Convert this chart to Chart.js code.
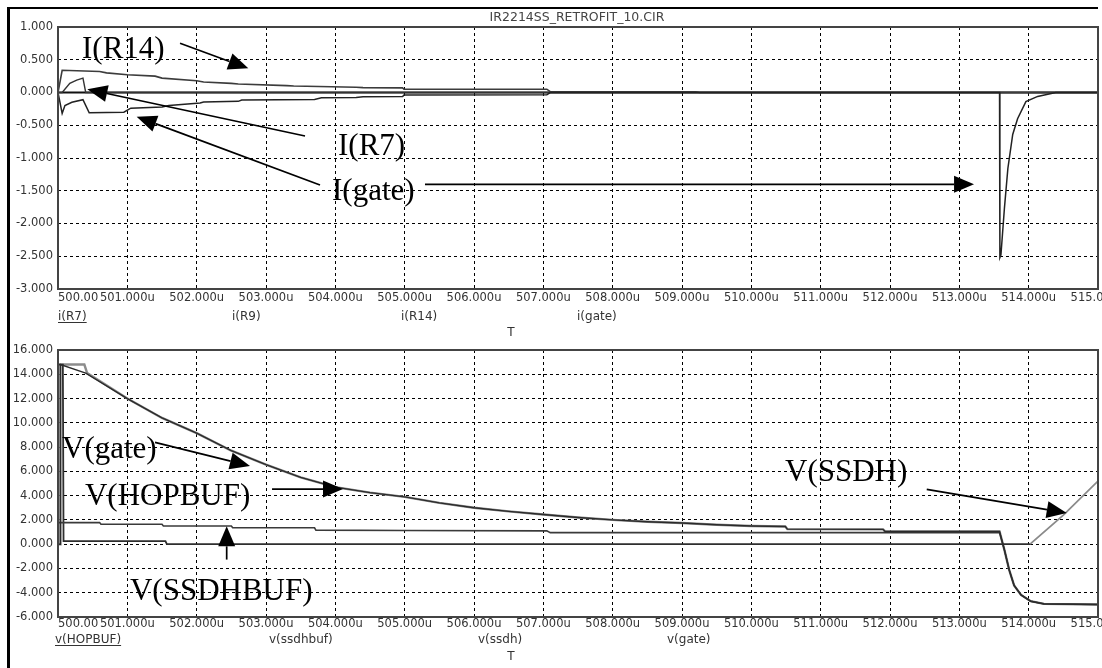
<!DOCTYPE html>
<html>
<head>
<meta charset="utf-8">
<title>IR2214SS_RETROFIT_10.CIR</title>
<script src="https://cdn.jsdelivr.net/npm/chart.js@4.4.1/dist/chart.umd.min.js"></script>
<style>
  html, body { margin: 0; padding: 0; background: #fff; }
  #page { position: relative; width: 1102px; height: 668px; overflow: hidden; background: #fff; }
  #frame { position: absolute; left: 7px; top: 7px; width: 1091px; height: 700px;
           border-top: 2px solid #000; border-left: 3px solid #000; box-sizing: border-box; }
  #cTop { position: absolute; left: 0; top: 0; }
  #cBot { position: absolute; left: 0; top: 340px; }
</style>
</head>
<body>
<div id="page">
  <div id="frame"></div>
  <canvas id="cTop" width="1102" height="340"></canvas>
  <canvas id="cBot" width="1102" height="328"></canvas>
</div>
<script>
// ---- time axis (microseconds) ----
const xMin = 500, xMax = 515, xStep = 1;
const chartTitle = 'IR2214SS_RETROFIT_10.CIR';
const axisName = 'T';

// ---- upper panel: currents ----
const topYMin = -3, topYMax = 1, topYStep = 0.5;
const topLegend = ['i(R7)', 'i(R9)', 'i(R14)', 'i(gate)'];

const tR7 = [500.00, 500.06, 500.17, 500.27, 500.36, 500.40, 515.00];
const iR7 = [0.00, 0.00, 0.14, 0.19, 0.22, 0.00, 0.00];

const tR9 = [500.00, 515.00];
const iR9 = [0.00, 0.00];

const tR14 = [500.00, 500.06, 500.60, 500.70, 501.00, 501.40, 501.50, 502.00, 502.10, 502.50, 502.60,
              503.30, 503.40, 504.30, 504.40, 504.97, 504.99, 507.05, 507.10, 509.20, 509.25, 515.00];
const iR14 = [0.00, 0.34, 0.32, 0.30, 0.27, 0.25, 0.22, 0.18, 0.16, 0.14, 0.13,
              0.105, 0.10, 0.08, 0.075, 0.07, 0.05, 0.05, 0.012, 0.012, 0.00, 0.00];

const tGateI = [500.00, 500.06, 500.10, 500.20, 500.36, 500.45, 500.95, 501.05, 501.50, 501.60, 502.05,
                502.10, 502.60, 502.65, 503.70, 503.80, 504.30, 504.40, 504.97, 504.99, 507.05, 507.10,
                513.58, 513.585, 513.60, 513.65, 513.70, 513.77, 513.84, 513.96, 514.13, 514.39, 515.00];
const iGate = [0.00, -0.32, -0.20, -0.15, -0.11, -0.31, -0.30, -0.24, -0.22, -0.20, -0.16,
               -0.145, -0.135, -0.115, -0.105, -0.08, -0.075, -0.064, -0.06, -0.04, -0.035, 0.00,
               0.00, -2.52, -2.48, -1.77, -1.16, -0.64, -0.40, -0.14, -0.06, 0.00, 0.00];

// ---- lower panel: voltages ----
const botYMin = -6, botYMax = 16, botYStep = 2;
const botLegend = ['v(HOPBUF)', 'v(ssdhbuf)', 'v(ssdh)', 'v(gate)'];

const tGateV = [500.00, 500.03, 500.035, 500.40, 501.00, 501.50, 502.00, 502.50, 503.00, 503.50, 504.00,
                504.50, 505.00, 505.50, 506.00, 506.50, 507.00, 507.50, 508.00, 508.50, 509.00, 509.50,
                510.00, 510.49, 510.52, 511.90, 511.93, 513.58, 513.65, 513.72, 513.79, 513.89, 514.03,
                514.22, 515.00];
const vGate = [0.00, 0.00, 14.80, 14.10, 12.00, 10.40, 9.15, 7.70, 6.55, 5.50, 4.70,
               4.25, 3.90, 3.40, 3.00, 2.70, 2.45, 2.20, 2.00, 1.85, 1.75, 1.60,
               1.50, 1.46, 1.24, 1.22, 1.05, 1.05, -0.47, -2.14, -3.40, -4.18, -4.70,
               -4.92, -4.97];

const tHop = [500.00, 500.03, 500.035, 500.38, 500.42, 501.00, 501.50, 502.00, 502.50, 503.00, 503.50,
              504.00, 504.50, 505.00, 505.50, 506.00, 506.50, 507.00, 507.50, 508.00, 508.50, 509.00,
              509.50, 510.00, 510.49, 510.52, 511.90, 511.93, 513.58, 513.65, 513.72, 513.79, 513.89,
              514.03, 514.22, 515.00];
const vHop = [0.00, 0.00, 14.80, 14.80, 14.10, 12.00, 10.40, 9.15, 7.70, 6.55, 5.50,
              4.70, 4.25, 3.90, 3.40, 3.00, 2.70, 2.45, 2.20, 2.00, 1.85, 1.75,
              1.60, 1.50, 1.46, 1.24, 1.22, 1.05, 1.05, -0.47, -2.14, -3.40, -4.18,
              -4.70, -4.92, -4.97];

const tSsdhBuf = [500.00, 500.60, 500.62, 501.50, 501.52, 502.50, 502.52, 503.70, 503.72, 505.00,
                  507.05, 507.10, 513.58, 513.65, 513.72, 513.79, 513.89, 514.03, 514.22, 515.00];
const vSsdhBuf = [1.78, 1.78, 1.64, 1.64, 1.50, 1.50, 1.35, 1.35, 1.16, 1.13,
                  1.10, 0.95, 0.95, -0.47, -2.14, -3.40, -4.18, -4.70, -4.92, -4.97];

const tSsdh = [500.00, 500.07, 500.08, 501.55, 501.57, 514.02, 514.50, 515.00];
const vSsdh = [14.80, 14.80, 0.25, 0.25, 0.00, 0.00, 2.40, 5.20];

// ---- callouts, anchored in axis units (time, value) ----
const topNotes = [
  { text: 'I(R14)',  t: 500.346, v: 0.527 },
  { text: 'I(R7)',   t: 504.039, v: -0.954 },
  { text: 'I(gate)', t: 503.952, v: -1.641 }
];
const topArrows = [
  { t1: 501.760, v1: 0.751,  t2: 502.745, v2: 0.369 },
  { t1: 503.563, v1: -0.664, t2: 500.423, v2: 0.049 },
  { t1: 503.779, v1: -1.412, t2: 501.135, v2: -0.369 },
  { t1: 505.293, v1: -1.402, t2: 513.212, v2: -1.402 }
];
const botNotes = [
  { text: 'V(gate)',    t: 500.058, v: 7.117 },
  { text: 'V(HOPBUF)',  t: 500.389, v: 3.215 },
  { text: 'V(SSDHBUF)', t: 501.038, v: -4.590 },
  { text: 'V(SSDH)',    t: 510.486, v: 5.207 }
];
const botArrows = [
  { t1: 501.399, v1: 8.387,  t2: 502.769, v2: 6.452 },
  { t1: 503.087, v1: 4.543,  t2: 504.111, v2: 4.543 },
  { t1: 502.433, v1: -1.269, t2: 502.433, v2: 1.471 },
  { t1: 512.530, v1: 4.518,  t2: 514.549, v2: 2.575 }
];

// ---- helpers ----
const pts = (ts, vs) => ts.map((t, i) => ({ x: t, y: vs[i] }));
const TICK_SIZE = 11.5;
const TICK_FONT = { family: '"DejaVu Sans", sans-serif', size: TICK_SIZE };
const NOTE_FONT = '31px "Liberation Serif", "Times New Roman", serif';
const SMALL_FONT = '12px "DejaVu Sans", sans-serif';

function drawArrow(ctx, x1, y1, x2, y2) {
  const L = 20, W = 8.5;
  const a = Math.atan2(y2 - y1, x2 - x1);
  const bx = x2 - L * Math.cos(a), by = y2 - L * Math.sin(a);
  ctx.beginPath();
  ctx.moveTo(x1, y1);
  ctx.lineTo(bx, by);
  ctx.stroke();
  ctx.beginPath();
  ctx.moveTo(x2, y2);
  ctx.lineTo(bx - W * Math.sin(a), by + W * Math.cos(a));
  ctx.lineTo(bx + W * Math.sin(a), by - W * Math.cos(a));
  ctx.closePath();
  ctx.fill();
}

// draws the plot frame, the first time label, legend names, title and callouts
const decor = {
  id: 'decor',
  beforeDraw(chart, args, o) {
    const ctx = chart.ctx, xs = chart.scales.x, area = chart.chartArea;
    ctx.save();
    ctx.font = `${TICK_SIZE}px "DejaVu Sans", sans-serif`;
    ctx.fillStyle = '#333';
    ctx.textAlign = 'left';
    ctx.textBaseline = 'middle';
    ctx.fillText(xMin.toFixed(3) + 'u', xs.getPixelForValue(xMin), area.bottom + o.tickDy);
    ctx.restore();
  },
  afterDatasetsDraw(chart) {
    const ctx = chart.ctx, a = chart.chartArea;
    ctx.save();
    ctx.strokeStyle = '#444';
    ctx.lineWidth = 2;
    ctx.strokeRect(a.left, a.top, a.right - a.left, a.bottom - a.top);
    ctx.restore();
  },
  afterDraw(chart, args, o) {
    const ctx = chart.ctx, xs = chart.scales.x, ys = chart.scales.y;
    ctx.save();
    if (o.title) {
      ctx.font = '12.5px "DejaVu Sans", sans-serif';
      ctx.fillStyle = '#444';
      ctx.textAlign = 'center';
      ctx.textBaseline = 'middle';
      ctx.fillText(o.title, o.titleX, o.titleY);
    }
    ctx.font = SMALL_FONT;
    ctx.fillStyle = '#333';
    ctx.textAlign = 'left';
    ctx.textBaseline = 'middle';
    o.legend.forEach((name, i) => {
      const x = o.legendX[i];
      ctx.fillText(name, x, o.legendY);
      if (i === 0) {
        const w = ctx.measureText(name).width;
        ctx.fillRect(x, o.legendY + 5, w, 1);
      }
    });
    ctx.textAlign = 'center';
    ctx.fillText(axisName, o.axisX, o.axisY);

    ctx.font = NOTE_FONT;
    ctx.fillStyle = '#000';
    ctx.textAlign = 'left';
    ctx.textBaseline = 'alphabetic';
    o.notes.forEach(n => ctx.fillText(n.text, xs.getPixelForValue(n.t), ys.getPixelForValue(n.v)));
    ctx.strokeStyle = '#000';
    ctx.lineWidth = 1.7;
    o.arrows.forEach(a => drawArrow(ctx,
      xs.getPixelForValue(a.t1), ys.getPixelForValue(a.v1),
      xs.getPixelForValue(a.t2), ys.getPixelForValue(a.v2)));
    ctx.restore();
  }
};

// keep the plot area fixed: no extra room reserved for overhanging tick labels
function pinScale(s, size) {
  if (s.isHorizontal()) s.height = size; else s.width = size;
  s.paddingLeft = 0; s.paddingRight = 0; s.paddingTop = 0; s.paddingBottom = 0;
}

function makeScales(yMin, yMax, yStep, xTickPad) {
  const grid = { color: '#000', lineWidth: 1, drawTicks: false };
  return {
    x: {
      type: 'linear', min: xMin, max: xMax,
      ticks: {
        stepSize: xStep, autoSkip: false, maxRotation: 0, minRotation: 0,
        padding: xTickPad, color: '#333', font: TICK_FONT,
        callback: v => (v === xMin ? '' : v.toFixed(3) + 'u'),
        showLabelBackdrop: c => !!(c.tick && c.tick.value !== xMin),
        backdropColor: '#fff',
        backdropPadding: { left: 2, right: 1, top: 0, bottom: 0 }
      },
      grid: grid,
      border: { display: false, dash: [3, 3] },
      afterFit: s => pinScale(s, 51)
    },
    y: {
      type: 'linear', min: yMin, max: yMax,
      ticks: {
        stepSize: yStep, autoSkip: false, padding: 5, color: '#333', font: TICK_FONT,
        callback: v => Number(v).toFixed(3)
      },
      grid: grid,
      border: { display: false, dash: [3, 3] },
      afterFit: s => pinScale(s, 58)
    }
  };
}

function line(label, data, color, width, segment) {
  const ds = { label, data, borderColor: color, borderWidth: width, pointRadius: 0,
               tension: 0, fill: false };
  if (segment) ds.segment = segment;
  return ds;
}

const common = {
  responsive: false,
  animation: false,
  devicePixelRatio: 1,
  events: []
};

new Chart(document.getElementById('cTop'), {
  type: 'line',
  data: {
    datasets: [
      line('I(gate)', pts(tGateI, iGate), '#222', 1.5),
      line('I(R14)',  pts(tR14, iR14),   '#3c3c3c', 1.6),
      line('I(R7)',   pts(tR7, iR7),     '#333', 1.4),
      line('I(R9)',   pts(tR9, iR9),     '#111', 2.0)
    ]
  },
  options: Object.assign({}, common, {
    layout: { autoPadding: false, padding: { left: 0, right: 4, top: 27, bottom: 0 } },
    scales: makeScales(topYMin, topYMax, topYStep, 2),
    plugins: {
      legend: { display: false },
      tooltip: { enabled: false },
      decor: {
        tickDy: 2 + TICK_SIZE * 0.6,
        title: chartTitle, titleX: 577, titleY: 18,
        legend: topLegend, legendX: [58, 232, 401, 577], legendY: 317,
        axisX: 511, axisY: 333,
        notes: topNotes, arrows: topArrows
      }
    }
  }),
  plugins: [decor]
});

// the rising tail of V(SSDH) is drawn lighter than its flat part
const ssdhSegment = { borderColor: c => (c.p1.parsed.y > c.p0.parsed.y + 0.5 && c.p0.parsed.x > 510 ? '#8a8a8a' : undefined) };

new Chart(document.getElementById('cBot'), {
  type: 'line',
  data: {
    datasets: [
      line('V(gate)',     pts(tGateV, vGate),      '#2b2b2b', 1.4),
      line('V(SSDHBUF)',  pts(tSsdhBuf, vSsdhBuf), '#3a3a3a', 1.6),
      line('V(SSDH)',     pts(tSsdh, vSsdh),       '#2e2e2e', 1.8, ssdhSegment),
      line('V(HOPBUF)',   pts(tHop, vHop),         '#8c8c8c', 2.4)
    ]
  },
  options: Object.assign({}, common, {
    layout: { autoPadding: false, padding: { left: 0, right: 4, top: 10, bottom: 0 } },
    scales: makeScales(botYMin, botYMax, botYStep, 0),
    plugins: {
      legend: { display: false },
      tooltip: { enabled: false },
      decor: {
        tickDy: TICK_SIZE * 0.6,
        title: '', titleX: 0, titleY: 0,
        legend: botLegend, legendX: [55, 269, 478, 667], legendY: 300,
        axisX: 511, axisY: 317,
        notes: botNotes, arrows: botArrows
      }
    }
  }),
  plugins: [decor]
});
</script>
</body>
</html>
